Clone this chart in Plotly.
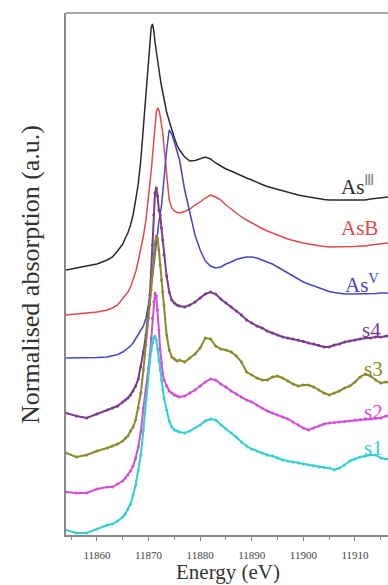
import plotly.graph_objects as go

# Energy grid (eV)
energy = [11854, 11856, 11858, 11860, 11862, 11863, 11864, 11865, 11865.5, 11866, 11866.5, 11867,
          11867.5, 11868, 11868.5, 11869, 11869.5, 11870, 11870.25, 11870.5, 11870.75, 11871,
          11871.25, 11871.5, 11871.75, 11872, 11872.25, 11872.5, 11872.75, 11873, 11873.5, 11874,
          11874.5, 11875, 11875.5, 11876, 11877, 11878, 11879, 11880, 11881, 11882, 11883, 11884,
          11885, 11886, 11887, 11888, 11889, 11890, 11891, 11892, 11893, 11894, 11895, 11896, 11897,
          11898, 11899, 11900, 11901, 11902, 11903, 11904, 11905, 11906, 11907, 11908, 11909, 11910,
          11911, 11912, 11913, 11914, 11915, 11916, 11916.5]

# Normalised absorption (stacked, a.u.)
as3 = [2.65, 2.67, 2.685, 2.71, 2.75, 2.78, 2.84, 2.91, 2.97, 3.02, 3.10, 3.20, 3.35, 3.51, 3.75, 4.07,
       4.40, 4.75, 4.93, 5.07, 5.11, 5.05, 4.93, 4.83, 4.73, 4.64, 4.57, 4.49, 4.42, 4.35, 4.23, 4.14,
       4.05, 3.97, 3.90, 3.85, 3.78, 3.74, 3.745, 3.76, 3.78, 3.76, 3.72, 3.69, 3.66, 3.64, 3.615, 3.59,
       3.57, 3.55, 3.525, 3.505, 3.485, 3.47, 3.455, 3.44, 3.425, 3.41, 3.40, 3.39, 3.38, 3.37, 3.36,
       3.355, 3.35, 3.35, 3.35, 3.35, 3.35, 3.35, 3.35, 3.35, 3.36, 3.365, 3.37, 3.38, 3.38]
asb = [2.20, 2.21, 2.22, 2.23, 2.25, 2.27, 2.30, 2.36, 2.39, 2.43, 2.48, 2.56, 2.63, 2.74, 2.85, 2.99,
       3.15, 3.37, 3.49, 3.63, 3.78, 3.95, 4.12, 4.23, 4.27, 4.25, 4.19, 4.11, 4.02, 3.88, 3.57, 3.35,
       3.27, 3.24, 3.225, 3.22, 3.235, 3.26, 3.30, 3.33, 3.37, 3.40, 3.38, 3.35, 3.30, 3.26, 3.22, 3.18,
       3.15, 3.12, 3.09, 3.065, 3.04, 3.02, 2.995, 2.975, 2.96, 2.945, 2.93, 2.92, 2.91, 2.90, 2.89,
       2.885, 2.88, 2.88, 2.88, 2.88, 2.88, 2.885, 2.89, 2.89, 2.90, 2.905, 2.91, 2.92, 2.92]
as5 = [1.77, 1.77, 1.77, 1.775, 1.78, 1.79, 1.805, 1.83, 1.85, 1.87, 1.89, 1.92, 1.96, 2.00, 2.04, 2.09,
       2.17, 2.29, 2.37, 2.47, 2.58, 2.70, 2.83, 2.95, 3.05, 3.13, 3.21, 3.29, 3.42, 3.58, 3.85, 4.05,
       4.01, 3.93, 3.83, 3.75, 3.45, 3.23, 3.00, 2.85, 2.74, 2.69, 2.67, 2.68, 2.71, 2.73, 2.755, 2.77,
       2.78, 2.78, 2.77, 2.75, 2.73, 2.71, 2.68, 2.65, 2.62, 2.59, 2.56, 2.53, 2.51, 2.49, 2.47, 2.45,
       2.435, 2.425, 2.415, 2.41, 2.41, 2.41, 2.41, 2.41, 2.41, 2.415, 2.42, 2.42, 2.42]
s4 = [1.22, 1.19, 1.17, 1.21, 1.25, 1.27, 1.29, 1.33, 1.35, 1.37, 1.40, 1.44, 1.49, 1.56, 1.68, 1.83,
      2.00, 2.23, 2.40, 2.63, 2.90, 3.20, 3.42, 3.47, 3.39, 3.25, 3.20, 3.07, 2.95, 2.80, 2.59, 2.43,
      2.35, 2.32, 2.30, 2.29, 2.28, 2.30, 2.33, 2.37, 2.41, 2.43, 2.41, 2.36, 2.32, 2.28, 2.24, 2.20,
      2.15, 2.12, 2.09, 2.07, 2.04, 2.02, 2.00, 1.98, 1.97, 1.96, 1.95, 1.935, 1.92, 1.91, 1.895,
      1.88, 1.88, 1.90, 1.91, 1.93, 1.94, 1.95, 1.96, 1.97, 1.97, 1.98, 1.98, 1.99, 1.99]
s3 = [0.82, 0.78, 0.80, 0.84, 0.87, 0.89, 0.91, 0.94, 0.97, 0.99, 1.04, 1.08, 1.15, 1.27, 1.42, 1.65,
      1.90, 2.17, 2.30, 2.45, 2.63, 2.78, 2.92, 2.99, 2.97, 2.85, 2.70, 2.55, 2.43, 2.30, 2.00, 1.85,
      1.78, 1.76, 1.74, 1.75, 1.73, 1.77, 1.81, 1.87, 1.97, 1.96, 1.89, 1.86, 1.85, 1.83, 1.79, 1.73,
      1.63, 1.60, 1.57, 1.55, 1.55, 1.58, 1.59, 1.57, 1.54, 1.51, 1.49, 1.50, 1.50, 1.48, 1.45, 1.42,
      1.40, 1.42, 1.44, 1.47, 1.49, 1.53, 1.58, 1.61, 1.59, 1.55, 1.52, 1.53, 1.53]
s2 = [0.43, 0.42, 0.42, 0.46, 0.48, 0.48, 0.51, 0.54, 0.57, 0.60, 0.64, 0.69, 0.77, 0.88, 1.03, 1.27,
      1.45, 1.67, 1.80, 1.97, 2.17, 2.33, 2.42, 2.39, 2.25, 2.05, 1.85, 1.72, 1.62, 1.55, 1.49, 1.44,
      1.42, 1.40, 1.39, 1.38, 1.39, 1.42, 1.45, 1.49, 1.53, 1.56, 1.55, 1.51, 1.48, 1.44, 1.41, 1.38,
      1.35, 1.33, 1.30, 1.27, 1.24, 1.22, 1.20, 1.18, 1.16, 1.13, 1.10, 1.07, 1.05, 1.07, 1.09, 1.11,
      1.12, 1.125, 1.13, 1.135, 1.14, 1.15, 1.155, 1.16, 1.16, 1.17, 1.17, 1.19, 1.19]
s1 = [0.05, 0.02, 0.02, 0.06, 0.10, 0.11, 0.14, 0.18, 0.21, 0.26, 0.31, 0.40, 0.50, 0.65, 0.80, 1.05,
      1.35, 1.62, 1.73, 1.85, 1.92, 1.97, 1.99, 1.95, 1.86, 1.75, 1.65, 1.55, 1.45, 1.37, 1.25, 1.14,
      1.08, 1.05, 1.04, 1.03, 1.02, 1.04, 1.07, 1.10, 1.14, 1.16, 1.15, 1.10, 1.06, 1.02, 0.98, 0.93,
      0.89, 0.86, 0.84, 0.82, 0.80, 0.79, 0.77, 0.75, 0.74, 0.73, 0.72, 0.71, 0.70, 0.69, 0.68, 0.675,
      0.67, 0.65, 0.67, 0.70, 0.74, 0.76, 0.78, 0.79, 0.80, 0.80, 0.77, 0.76, 0.76]

series_names = ["As(III)", "AsB", "As(V)", "s4", "s3", "s2", "s1"]
series_values = [as3, asb, as5, s4, s3, s2, s1]
colors = ["#2a2a2a", "#e04a4a", "#4545c5", "#7a3d8c", "#8a8a2c", "#d24fd2", "#33d0d0"]
is_sample = [False, False, False, True, True, True, True]

label_texts = ["As<sup><span style='color:#888'>Ⅲ</span></sup>", "AsB", "As<sup>V</sup>",
               "s4", "s3", "s2", "s1"]
label_x = [11907.0, 11906.9, 11907.7, 11911.0, 11911.4, 11911.4, 11911.4]
label_y = [3.50, 3.07, 2.52, 2.05, 1.66, 1.23, 0.87]

x_ticks = [11860, 11870, 11880, 11890, 11900, 11910]

FONT = "Liberation Serif"

fig = go.Figure()
for name, vals, col, samp in zip(series_names, series_values, colors, is_sample):
    fig.add_trace(go.Scatter(
        x=energy, y=vals, name=name,
        mode="lines+markers" if samp else "lines",
        line=dict(color=col, width=2.0 if samp else 1.5),
        marker=dict(size=3, color=col),
        showlegend=False,
    ))

for t, lx, ly, col in zip(label_texts, label_x, label_y, colors):
    fig.add_annotation(x=lx, y=ly, xref="x", yref="y", text=t, showarrow=False,
                       xanchor="left", yanchor="middle",
                       font=dict(family=FONT, size=21, color=col))

fig.add_annotation(x=0.503, y=-0.07, xref="paper", yref="paper", text="Energy (eV)",
                   showarrow=False, xanchor="center", yanchor="middle",
                   font=dict(family=FONT, size=21, color="#333"))
fig.add_annotation(x=-0.112, y=0.5, xref="paper", yref="paper",
                   text="Normalised absorption (a.u.)", textangle=-90,
                   showarrow=False, xanchor="center", yanchor="middle",
                   font=dict(family=FONT, size=26, color="#333"))

fig.add_shape(type="line", xref="paper", yref="paper", x0=0, x1=1, y0=1, y1=1,
              line=dict(color="#888", width=1.5))

fig.update_layout(
    width=388, height=585,
    margin=dict(l=66, r=0, t=13, b=50),
    paper_bgcolor="white", plot_bgcolor="white",
    font=dict(family=FONT),
)
fig.update_xaxes(range=[11854.0, 11916.4], showgrid=False, zeroline=False,
                 showline=True, linecolor="#888", linewidth=1.5,
                 tickvals=x_ticks, ticktext=[str(v) for v in x_ticks],
                 ticks="outside", ticklen=4, tickcolor="#888", tickwidth=1,
                 minor=dict(dtick=5, tick0=11855, ticks="outside", ticklen=3, tickcolor="#888"),
                 tickfont=dict(family=FONT, size=11, color="#444"), ticklabelstandoff=5)
fig.update_yaxes(range=[0, 5.22], showgrid=False, zeroline=False,
                 showline=True, linecolor="#888", linewidth=1.5,
                 showticklabels=False, ticks="")

fig.write_html("out.html")
